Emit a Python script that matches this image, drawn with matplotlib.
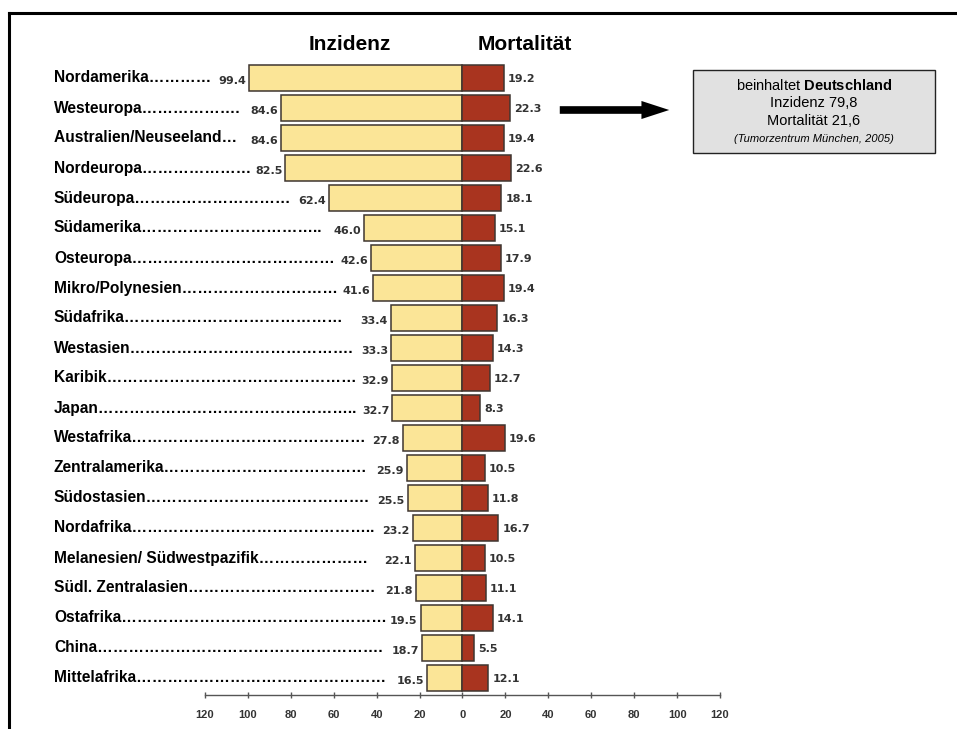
import matplotlib
matplotlib.use("Agg")
import matplotlib.pyplot as plt
from matplotlib.lines import Line2D
from matplotlib.patches import FancyArrowPatch, Rectangle
import numpy as np

plt.rcParams['font.family'] = ['Liberation Sans', 'DejaVu Sans']
plt.rcParams['mathtext.fontset'] = 'custom'
plt.rcParams['mathtext.rm'] = 'Liberation Sans'
plt.rcParams['mathtext.bf'] = 'Liberation Sans:bold'

# Regions with leader dots, top to bottom
regions = [
    "Nordamerika………… ",
    "Westeuropa……………….",
    "Australien/Neuseeland… ",
    "Nordeuropa…………………",
    "Südeuropa…………………………",
    "Südamerika……………………………..",
    "Osteuropa…………………………………",
    "Mikro/Polynesien…………………………",
    "Südafrika……………………………………",
    "Westasien…………………………………….",
    "Karibik…………………………………………",
    "Japan…………………………………………..",
    "Westafrika………………………………………",
    "Zentralamerika…………………………………",
    "Südostasien…………………………………….",
    "Nordafrika………………………………………..",
    "Melanesien/ Südwestpazifik…………………",
    "Südl. Zentralasien………………………………",
    "Ostafrika……………………………………………",
    "China……………………………………………….",
    "Mittelafrika…………………………………………",
]
inzidenz = [99.4, 84.6, 84.6, 82.5, 62.4, 46.0, 42.6, 41.6, 33.4, 33.3, 32.9,
            32.7, 27.8, 25.9, 25.5, 23.2, 22.1, 21.8, 19.5, 18.7, 16.5]
mortalitaet = [19.2, 22.3, 19.4, 22.6, 18.1, 15.1, 17.9, 19.4, 16.3, 14.3, 12.7,
               8.3, 19.6, 10.5, 11.8, 16.7, 10.5, 11.1, 14.1, 5.5, 12.1]
tick_values = [-120, -100, -80, -60, -40, -20, 0, 20, 40, 60, 80, 100, 120]

W, H = 957, 729
fig = plt.figure(figsize=(W / 100, H / 100), dpi=100)

# axes: x from -120..120 spans pixels 205..720; rows spaced 30 px
x0, x1 = 205, 720
y_top_px, y_bot_px = 33, 695
ax = fig.add_axes([x0 / W, 1 - y_bot_px / H, (x1 - x0) / W, (y_bot_px - y_top_px) / H])

n = len(regions)
y = np.arange(n)
yellow = '#fbe597'
red = '#a9341f'
edge = '#3f3630'

ax.barh(y, -np.array(inzidenz), height=0.84, color=yellow, edgecolor=edge, linewidth=1.1)
ax.barh(y, mortalitaet, height=0.84, color=red, edgecolor=edge, linewidth=1.1)

ax.set_xlim(-120, 120)
ax.set_ylim(n - 1 + 17 / 30, -1.5)

val_font = dict(fontsize=8, fontweight='bold', color='#333333', family='DejaVu Sans')
for i in range(n):
    ax.text(-inzidenz[i] - 1.4, y[i] + 0.1, f"{inzidenz[i]:.1f}", ha='right', va='center', **val_font)
    ax.text(mortalitaet[i] + 1.8, y[i] + 0.05, f"{mortalitaet[i]:.1f}", ha='left', va='center', **val_font)

for s in ['top', 'right', 'left']:
    ax.spines[s].set_visible(False)
ax.spines['bottom'].set_color('#555555')
ax.spines['bottom'].set_linewidth(1.0)
ax.set_yticks([])
ax.set_xticks(tick_values)
ax.set_xticklabels([str(abs(v)) for v in tick_values], fontsize=8, fontweight='bold', color='#333333')
ax.tick_params(axis='x', direction='inout', length=5, width=1, color='#555555', pad=8)

# region names with leader dots
for i in range(n):
    yy = ax.transData.transform((0, y[i]))[1]
    fig.text(54 / W, yy / H, regions[i], ha='left', va='center', fontsize=11.2, fontweight='bold',
             color='black')

# column titles
fig.text(350 / W, 1 - 45 / H, "Inzidenz", ha='center', va='center', fontsize=15, fontweight='bold')
fig.text(525 / W, 1 - 45 / H, "Mortalität", ha='center', va='center', fontsize=15, fontweight='bold')

# frame lines
fig.add_artist(Line2D([9 / W, 1.0], [1 - 13 / H, 1 - 13 / H], color='black', linewidth=2.2))
fig.add_artist(Line2D([9 / W, 9 / W], [0, 1 - 13 / H], color='black', linewidth=2.2))

# info box
bx0, by0, bx1, by1 = 693, 70, 935, 153
fig.add_artist(Rectangle((bx0 / W, 1 - by1 / H), (bx1 - bx0) / W, (by1 - by0) / H,
                         facecolor='#e1e1e1', edgecolor='#222222', linewidth=1.0))
cx = (bx0 + bx1) / 2 / W
fig.text(cx, 1 - 86 / H, r"beinhaltet $\mathbf{Deutschland}$", ha='center', va='center', fontsize=10.5)
fig.text(cx, 1 - 103 / H, "Inzidenz 79,8", ha='center', va='center', fontsize=10.5)
fig.text(cx, 1 - 121 / H, "Mortalität 21,6", ha='center', va='center', fontsize=10.5)
fig.text(cx, 1 - 139 / H, "(Tumorzentrum München, 2005)", ha='center', va='center', fontsize=8,
         style='italic')

# arrow pointing to the box
fig.add_artist(FancyArrowPatch((557 / W, 1 - 110 / H), (672 / W, 1 - 110 / H),
                               transform=fig.transFigure,
                               arrowstyle='simple,head_width=1.3,head_length=2.0,tail_width=0.55',
                               mutation_scale=10, color='black', linewidth=0))

fig.savefig("out.png", dpi=100, facecolor='white')
